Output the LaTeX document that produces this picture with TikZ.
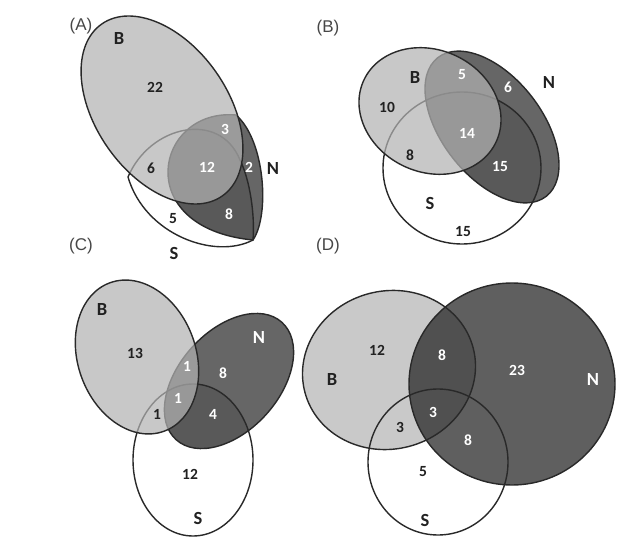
\documentclass[tikz,border=0pt]{standalone}
\usepackage{fontspec}
\setmainfont{Carlito}
\newfontfamily\panelfont{Liberation Sans}
\definecolor{Nfill}{gray}{0.40}
\definecolor{Bfill}{gray}{0.70}
\definecolor{BfillD}{gray}{0.79}
\definecolor{NfillD}{gray}{0.14}
\definecolor{ink}{gray}{0.13}
\definecolor{edge}{gray}{0.16}
\tikzset{
  num/.style={font=\bfseries\fontsize{15.5}{15.5}\selectfont, text=ink, inner sep=0pt},
  wnum/.style={num, text=white},
  setlbl/.style={font=\bfseries\fontsize{18.5}{18.5}\selectfont, text=ink, inner sep=0pt},
  wset/.style={setlbl, text=white},
  panel/.style={font=\panelfont\fontsize{17}{17}\selectfont, text=black!72, inner sep=0pt},
  outline/.style={draw=edge, line width=1.4pt},
  bshade/.style={fill=Bfill, fill opacity=0.71},
  nshade/.style={fill=Nfill},
}
\begin{document}
\begin{tikzpicture}[x=1pt, y=-1pt]
\useasboundingbox (0,0) rectangle (640,556);
\fill[white] (0,0) rectangle (640,556);

% ---------------- Panel A ----------------
\fill[nshade] (236,115) .. controls (155,108) and (130,228) .. (253,240)
   .. controls (270,215) and (265,140) .. (236,115) -- cycle;
\begin{scope}
  \clip (253,240) .. controls (215,260) and (145,235) .. (128,177)
     .. controls (150,125) and (220,110) .. (240,160)
     .. controls (250,180) and (255,215) .. (253,240) -- cycle;
  \fill[black, opacity=0.12] (236,115) .. controls (155,108) and (130,228) .. (253,240)
     .. controls (270,215) and (265,140) .. (236,115) -- cycle;
\end{scope}
\draw[outline] (253,240) .. controls (215,260) and (145,235) .. (128,177)
   .. controls (150,125) and (220,110) .. (240,160)
   .. controls (250,180) and (255,215) .. (253,240) -- cycle;
\draw[outline] (236,115) .. controls (155,108) and (130,228) .. (253,240)
   .. controls (270,215) and (265,140) .. (236,115) -- cycle;
\fill[bshade, rotate around={-55:(162,110)}] (162,110) ellipse [x radius=105pt, y radius=66pt];
\draw[outline, rotate around={-55:(162,110)}] (162,110) ellipse [x radius=105pt, y radius=66pt];

\node[panel] (labA) at (81,26) {(A)};
\node[setlbl] (aB) at (119,39) {B};
\node[num] (a22) at (155,87) {22};
\node[wnum] (a3) at (225,129) {3};
\node[num] (a6) at (151,168) {6};
\node[wnum] (a12) at (207,167) {12};
\node[wnum] (a2) at (249,167) {2};
\node[setlbl] (aN) at (273,169) {N};
\node[num] (a5) at (173,219) {5};
\node[wnum] (a8) at (229,214) {8};
\node[setlbl] (aS) at (174,253) {S};

% ---------------- Panel B ----------------
\fill[nshade, rotate around={-52:(492,127)}] (492,127) ellipse [x radius=88pt, y radius=50pt];
\begin{scope}
  \clip (462,168) ellipse [x radius=79pt, y radius=76pt];
  \fill[black, opacity=0.12, rotate around={-52:(492,127)}] (492,127) ellipse [x radius=88pt, y radius=50pt];
\end{scope}
\draw[outline] (462,168) ellipse [x radius=79pt, y radius=76pt];
\draw[outline, rotate around={-52:(492,127)}] (492,127) ellipse [x radius=88pt, y radius=50pt];
\fill[bshade, rotate around={-25:(430,111)}] (430,111) ellipse [x radius=73pt, y radius=61pt];
\draw[outline, rotate around={-25:(430,111)}] (430,111) ellipse [x radius=73pt, y radius=61pt];

\node[panel] (labB) at (328,28) {(B)};
\node[setlbl] (bB) at (415,78) {B};
\node[wnum] (b5) at (462,75) {5};
\node[wnum] (b6) at (508,87) {6};
\node[setlbl] (bN) at (549,83) {N};
\node[num] (b10) at (387,107) {10};
\node[wnum] (b14) at (467,133) {14};
\node[num] (b8) at (410,155) {8};
\node[wnum] (b15) at (500,167) {15};
\node[setlbl] (bS) at (430,203) {S};
\node[num] (b15s) at (463,232) {15};

% ---------------- Panel C ----------------
\fill[nshade, rotate around={48:(229,381)}] (229,381) ellipse [x radius=79pt, y radius=50pt];
\begin{scope}
  \clip (193,460) ellipse [x radius=60pt, y radius=76pt];
  \fill[black, opacity=0.12, rotate around={48:(229,381)}] (229,381) ellipse [x radius=79pt, y radius=50pt];
\end{scope}
\draw[outline] (193,460) ellipse [x radius=60pt, y radius=76pt];
\draw[outline, rotate around={48:(229,381)}] (229,381) ellipse [x radius=79pt, y radius=50pt];
\fill[bshade, rotate around={-70:(137,357)}] (137,357) ellipse [x radius=79pt, y radius=59pt];
\draw[outline, rotate around={-70:(137,357)}] (137,357) ellipse [x radius=79pt, y radius=59pt];

\node[panel] (labC) at (81,246) {(C)};
\node[setlbl] (cB) at (102,310) {B};
\node[num] (c13) at (135,353) {13};
\node[wset] (cN) at (259,338) {N};
\node[wnum] (c1a) at (187,366) {1};
\node[wnum] (c8) at (223,373) {8};
\node[wnum] (c1b) at (178,398) {1};
\node[num] (c1c) at (157,414) {1};
\node[wnum] (c4) at (213,414) {4};
\node[num] (c12) at (190,474) {12};
\node[setlbl] (cS) at (198,518) {S};

% ---------------- Panel D ----------------
\fill[BfillD, rotate around={15:(389,370)}] (389,370) ellipse [x radius=87pt, y radius=79pt];
\fill[NfillD, fill opacity=0.73] (512,384) ellipse [x radius=103pt, y radius=101pt];
\draw[outline, rotate around={15:(389,370)}] (389,370) ellipse [x radius=87pt, y radius=79pt];
\draw[outline] (512,384) ellipse [x radius=103pt, y radius=101pt];
\draw[outline] (438,462) ellipse [x radius=70pt, y radius=73pt];

\node[panel] (labD) at (328,246) {(D)};
\node[num] (d12) at (377,350) {12};
\node[setlbl] (dB) at (332,380) {B};
\node[wnum] (d8a) at (442,355) {8};
\node[wnum] (d23) at (517,370) {23};
\node[wset] (dN) at (593,380) {N};
\node[wnum] (d3a) at (433,412) {3};
\node[num] (d3b) at (400,427) {3};
\node[wnum] (d8b) at (468,440) {8};
\node[num] (d5) at (423,472) {5};
\node[setlbl] (dS) at (425,520) {S};
\end{tikzpicture}
\end{document}
